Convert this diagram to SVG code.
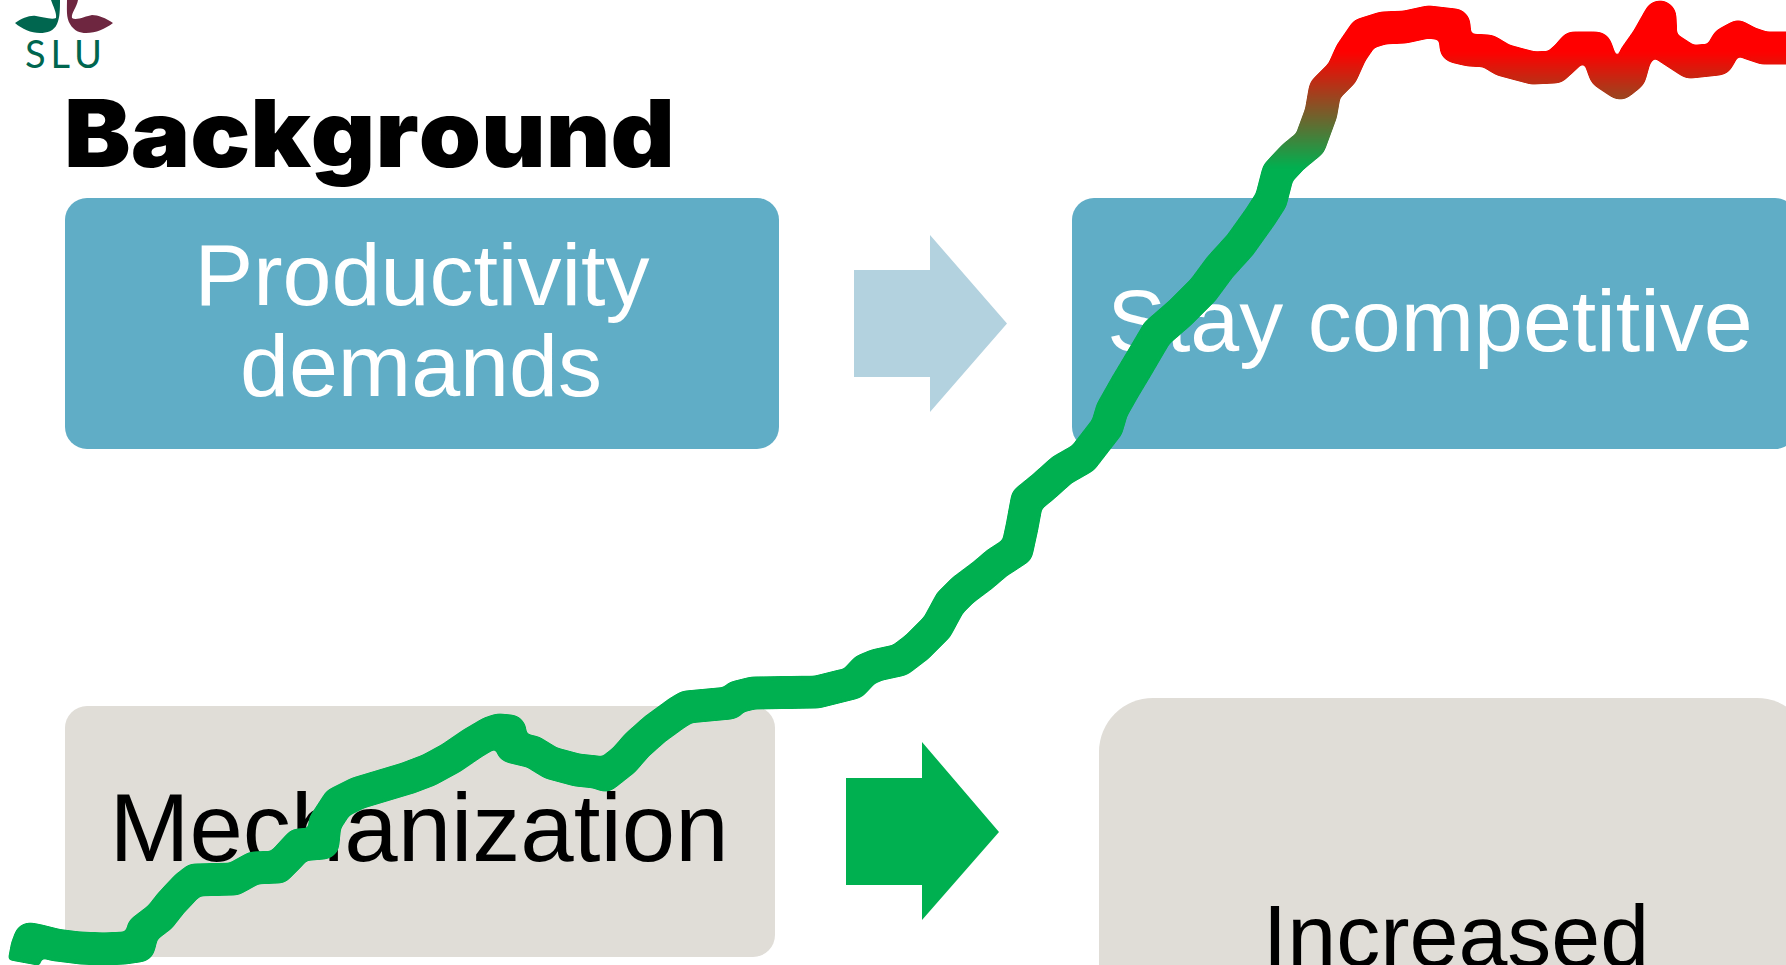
<svg xmlns="http://www.w3.org/2000/svg" width="1786" height="965" viewBox="0 0 1786 965">
<style>
.t{font-family:"Liberation Sans",Arial,sans-serif;font-size:88px;text-anchor:middle}
.w{fill:#fff}.k{fill:#000}
.blue{fill:#60adc6}.beige{fill:#e0ddd7}
</style>
<defs>
<linearGradient id="curveGrad" gradientUnits="userSpaceOnUse" x1="0" y1="168" x2="0" y2="52">
<stop offset="0" stop-color="#00b050"/><stop offset="1" stop-color="#ff0000"/>
</linearGradient>
<filter id="smooth" filterUnits="userSpaceOnUse" x="-20" y="-20" width="1840" height="1010" color-interpolation-filters="sRGB">
<feGaussianBlur stdDeviation="2"/>
<feComponentTransfer><feFuncA type="linear" slope="7" intercept="-3"/></feComponentTransfer>
</filter>
</defs>
<rect width="1786" height="965" fill="#fff"/>
<g id="logo">
<path fill="#00664f" d="M15,23 C22,18 30,15 36,16 C42,17 52,20 56,18 C57,13 53,6 51,0 L60,0 C60,8 60,18 57,24 C54,31 47,33 40,33 C31,33 22,29 15,23Z"/>
<path fill="#6e2640" d="M113,23 C106,18 98,15 92,15 C86,16 76,21 72,18 C71,13 77,7 78,0 L67,0 C67,8 66,18 70,24 C74,31 80,33 86,33 C96,33 105,29 113,23Z"/>
<text x="25" y="68" font-family="Lato,'Liberation Sans',sans-serif" font-size="38" fill="#00664f" textLength="77" lengthAdjust="spacing">SLU</text>
</g>
<text id="title" x="64" y="167" font-family="Inter,'Liberation Sans',Arial,sans-serif" font-size="93" font-weight="900" fill="#000" style="font-kerning:none" textLength="611" lengthAdjust="spacingAndGlyphs">Background</text>
<g id="node-productivity">
<rect class="blue" x="65" y="198" width="714" height="251" rx="22"/>
<text class="t w" x="422" y="305">Productivity</text>
<text class="t w" x="421" y="396">demands</text>
</g>
<g id="arrow-top"><path fill="#b3d2df" d="M854,270H930V235L1007,323.5L930,412V377H854Z"/></g>
<g id="node-competitive">
<rect class="blue" x="1072" y="198" width="725" height="251" rx="22"/>
<text class="t w" x="1430" y="351">Stay competitive</text>
</g>
<g id="node-mechanization">
<rect class="beige" x="65" y="706" width="710" height="251" rx="22"/>
<text class="k" x="419" y="861" font-family="'Liberation Sans',Arial,sans-serif" font-size="96" text-anchor="middle">Mechanization</text>
</g>
<g id="arrow-bottom"><path fill="#00b050" d="M846,778H922V742L999,832L922,920V885H846Z"/></g>
<g id="node-increased">
<rect class="beige" x="1099" y="698" width="712" height="400" rx="54"/>
<text class="t k" x="1456" y="966">Increased</text>
</g>
<g id="connectors">
<path filter="url(#smooth)" fill="none" stroke="url(#curveGrad)" stroke-width="33" stroke-linejoin="round" stroke-linecap="butt" d="M24,963 L27,947 L30,939 L40,941 L56,945 L80,948 L104,949 L125,948 L139,946 L143,930 L160,917 L171,903 L186,887 L195,880 L234,879 L254,868 L278,867 L288,857 L299,845 L323,843 L325,823 L338,803 L358,793 L408,778 L429,770 L451,758 L473,743 L490,733 L499,730 L510,731 L512,747 L533,752 L551,763 L577,770 L596,772 L605,775 L624,760 L637,745 L655,729 L677,713 L687,707 L730,703 L737,697 L753,693 L817,692 L853,683 L865,670 L877,665 L900,660 L917,647 L927,637 L937,627 L950,603 L963,590 L983,575 L997,563 L1017,550 L1022,527 L1027,500 L1043,487 L1062,470 L1083,458 L1107,427 L1112,410 L1125,387 L1137,367 L1147,350 L1157,333 L1180,313 L1203,290 L1220,267 L1240,245 L1260,217 L1271,200 L1278,173 L1293,157 L1310,143 L1321,113 L1325,90 L1342,73 L1351,53 L1364,34 L1383,28 L1405,27 L1428,22 L1454,25 L1456,47 L1469,50 L1488,51 L1503,60 L1533,68 L1555,67 L1568,55 L1574,48 L1596,48 L1605,73 L1620,83 L1630,75 L1635,57 L1647,40 L1660,17 L1661,40 L1667,47 L1690,62 L1718,59 L1727,43 L1738,37 L1749,43 L1764,48 L1800,48"/>
</g>
</svg>
